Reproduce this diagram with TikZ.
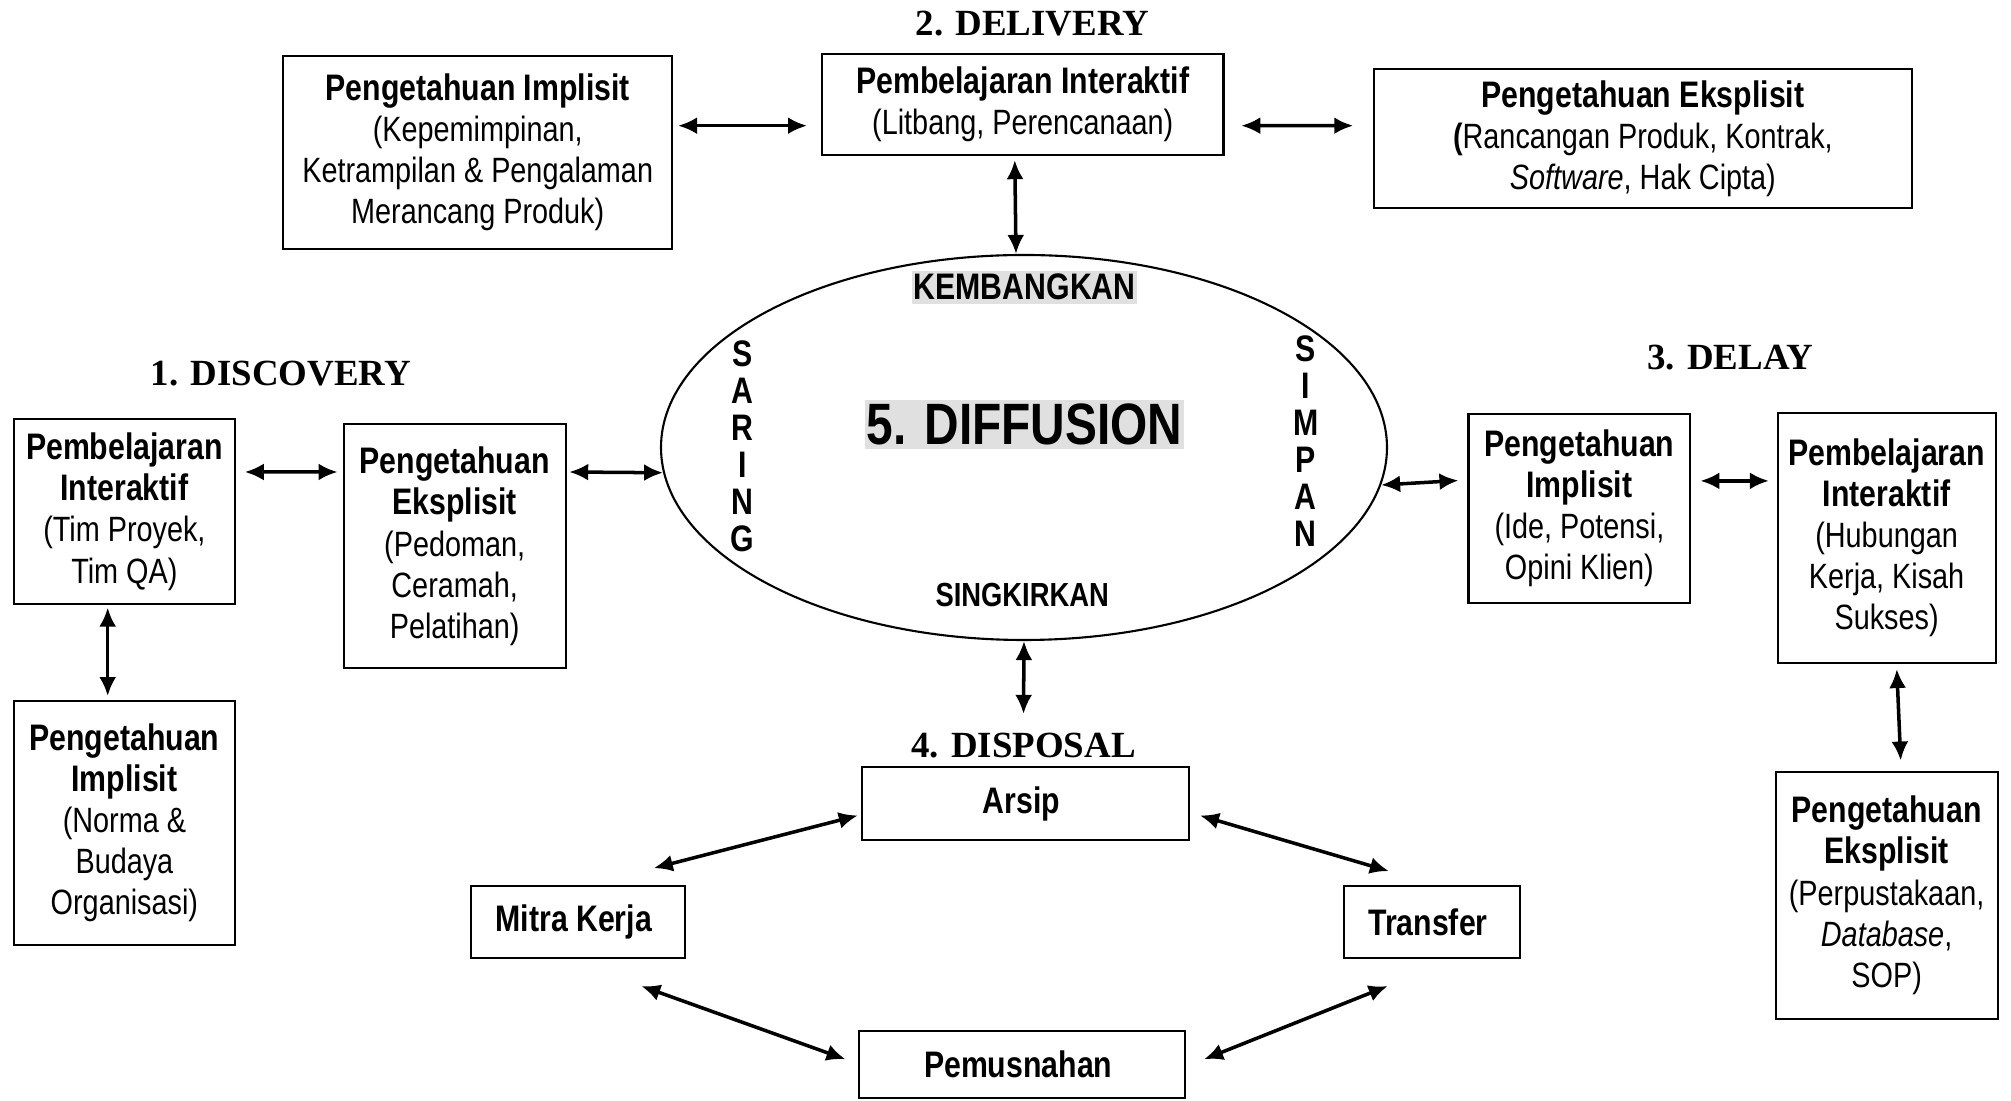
\documentclass[tikz,border=0pt]{standalone}
\usepackage{fontspec}
\setmainfont{Liberation Sans}[FakeStretch=0.82]
\newfontfamily\tmsfont{Liberation Serif}
\usepackage {tikz}
\usetikzlibrary {positioning}
\usetikzlibrary{shapes.geometric, arrows.meta}

\definecolor{sorot}{RGB}{224,224,224}
\newcommand{\hd}[1]{{\fontsize{10.5}{11.6}\selectfont\bfseries #1}}

\tikzset{
    kotak/.style={draw, rectangle, line width=0.6pt, align=center, inner sep=1pt, font=\fontsize{10}{11.7}\selectfont},
    judul/.style={inner sep=0pt, font=\tmsfont\fontsize{10.5}{12}\selectfont\bfseries},
    link/.style={<->, line width=1pt},
    >={Latex[length=1.9mm,width=1.7mm]}
}

\begin{document}
\begin{tikzpicture}

    \useasboundingbox (0,0) rectangle (20.11,-11.01);

    \node[draw, ellipse, line width=0.6pt, minimum width=7.26cm, minimum height=3.85cm, inner sep=0pt] (diff) at (10.24,-4.475) {};
    \node[fill=sorot, inner xsep=0.5pt, inner ysep=1pt, font=\fontsize{10.5}{12}\selectfont\bfseries] (kemb) at (10.247,-2.873) {KEMBANGKAN};
    \node[fill=sorot, inner xsep=0.5pt, inner ysep=1pt, font=\fontsize{16.6}{18}\selectfont\bfseries] (dif5) at (10.247,-4.245) {5. DIFFUSION};
    \node[inner sep=0pt, font=\fontsize{9.5}{11}\selectfont\bfseries] (sing) at (10.222,-5.951) {SINGKIRKAN};
    \node[inner sep=0pt, align=center, font=\fontsize{10.5}{10.5}\selectfont\bfseries] (saring) at (7.426,-4.463) {S\\A\\R\\I\\N\\G};
    \node[inner sep=0pt, align=center, font=\fontsize{10.5}{10.5}\selectfont\bfseries] (simpan) at (13.056,-4.412) {S\\I\\M\\P\\A\\N};

    \node[judul] (t2) at (10.324,-0.231) {2. DELIVERY};
    \node[judul] (t1) at (2.809,-3.732) {1. DISCOVERY};
    \node[judul] (t3) at (17.301,-3.578) {3. DELAY};
    \node[judul] (t4) at (10.234,-7.451) {4. DISPOSAL};

    \node[kotak, minimum width=3.886cm, minimum height=1.924cm] (implT) at (4.777,-1.526)
        { \hd{Pengetahuan Implisit}\\(Kepemimpinan,\\Ketrampilan \& Pengalaman\\Merancang Produk) };
    \node[kotak, minimum width=4.014cm, minimum height=1.013cm] (pembT) at (10.228,-1.045)
        { \hd{Pembelajaran Interaktif}\\(Litbang, Perencanaan) };
    \node[kotak, minimum width=5.386cm, minimum height=1.385cm] (eksT) at (16.429,-1.385)
        { \hd{Pengetahuan Eksplisit}\\\textbf{(}Rancangan Produk, Kontrak,\\\textit{Software}, Hak Cipta) };

    \node[kotak, minimum width=2.206cm, minimum height=1.847cm] (pembL) at (1.244,-5.117)
        { \hd{Pembelajaran}\\\hd{Interaktif}\\(Tim Proyek,\\Tim QA) };
    \node[kotak, minimum width=2.219cm, minimum height=2.437cm] (eksL) at (4.547,-5.463)
        { \hd{Pengetahuan}\\\hd{Eksplisit}\\(Pedoman,\\Ceramah,\\Pelatihan) };
    \node[kotak, minimum width=2.206cm, minimum height=2.436cm, below=0.95cm of pembL] (implL)
        { \hd{Pengetahuan}\\\hd{Implisit}\\(Norma \&\\Budaya\\Organisasi) };

    \node[kotak, minimum width=2.218cm, minimum height=1.886cm] (implR) at (15.794,-5.085)
        { \hd{Pengetahuan}\\\hd{Implisit}\\(Ide, Potensi,\\Opini Klien) };
    \node[kotak, minimum width=2.181cm, minimum height=2.5cm] (pembR) at (18.866,-5.38)
        { \hd{Pembelajaran}\\\hd{Interaktif}\\(Hubungan\\Kerja, Kisah\\Sukses) };
    \node[kotak, minimum width=2.219cm, minimum height=2.475cm, below=1.065cm of pembR] (eksR)
        { \hd{Pengetahuan}\\\hd{Eksplisit}\\(Perpustakaan,\\\textit{Database},\\SOP) };

    \node[kotak, minimum width=3.271cm, minimum height=0.731cm] (arsip) at (10.254,-8.035) { \hd{Arsip} };
    \node[kotak, minimum width=2.142cm, minimum height=0.718cm] (mitra) at (5.778,-9.221) { \hd{Mitra Kerja} };
    \node[kotak, minimum width=1.757cm, minimum height=0.718cm] (transfer) at (14.319,-9.221) { \hd{Transfer} };
    \node[kotak, minimum width=3.257cm, minimum height=0.667cm] (pemus) at (10.222,-10.645) { \hd{Pemusnahan} };

    \draw[link] ([xshift=0.05cm,yshift=0.269cm]implT.east) -- ([xshift=-0.14cm,yshift=-0.212cm]pembT.west);
    \draw[link] ([xshift=0.167cm,yshift=-0.212cm]pembT.east) -- ([xshift=-0.193cm,yshift=0.128cm]eksT.west);
    \draw[link] ([xshift=-0.08cm,yshift=-0.04cm]pembT.south) -- ([xshift=-0.08cm]diff.north);

    \draw[link] ([xshift=0.09cm,yshift=0.397cm]pembL.east) -- ([xshift=-0.051cm,yshift=0.743cm]eksL.west);
    \draw[link] ([xshift=0.025cm,yshift=0.743cm]eksL.east) -- (diff.184);
    \draw[link] ([xshift=-0.167cm,yshift=-0.025cm]pembL.south) -- ([xshift=-0.167cm,yshift=0.04cm]implL.north);

    \draw[link] (diff.354.8) -- ([xshift=-0.09cm,yshift=0.28cm]implR.west);
    \draw[link] ([xshift=0.09cm,yshift=0.276cm]implR.east) -- ([xshift=-0.076cm,yshift=0.571cm]pembR.west);
    \draw[link] ([xshift=0.102cm,yshift=-0.05cm]pembR.south) -- ([xshift=0.141cm,yshift=0.1cm]eksR.north);

    \draw[link, shorten >=0.18cm] (diff.south) -- (t4.north);
    \draw[link] ([xshift=-0.03cm,yshift=-0.12cm]arsip.west) -- ([xshift=0.76cm,yshift=0.17cm]mitra.north);
    \draw[link] ([xshift=0.1cm,yshift=-0.12cm]arsip.east) -- ([xshift=-0.43cm,yshift=0.14cm]transfer.north);
    \draw[link] ([xshift=0.635cm,yshift=-0.27cm]mitra.south) -- ([xshift=-0.128cm,yshift=0.052cm]pemus.west);
    \draw[link] ([xshift=-0.442cm,yshift=-0.27cm]transfer.south) -- ([xshift=0.18cm,yshift=0.052cm]pemus.east);

\end{tikzpicture}
\end{document}
